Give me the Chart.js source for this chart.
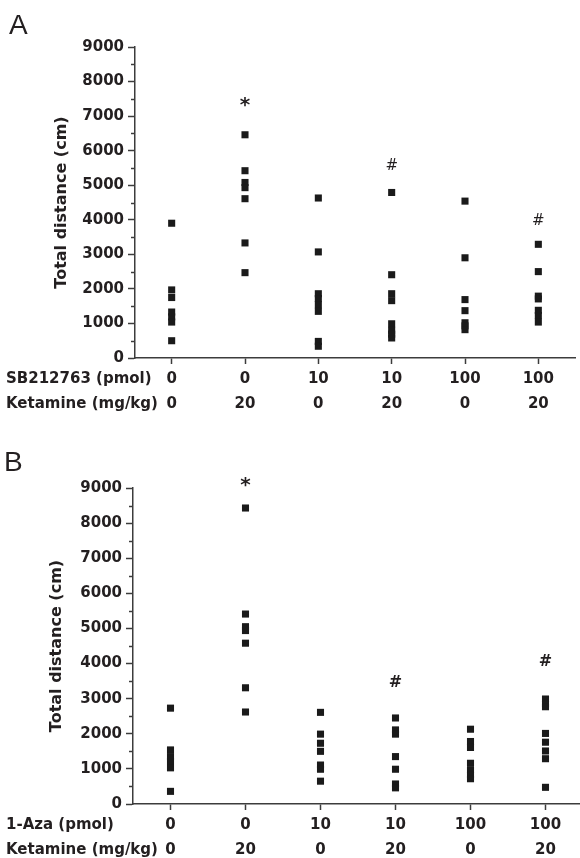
<!DOCTYPE html>
<html>
<head>
<meta charset="utf-8">
<script src="https://cdn.jsdelivr.net/npm/chart.js@4.4.0/dist/chart.umd.min.js"></script>
<style>
    html, body { margin: 0; padding: 0; background: #fff; overflow: hidden; }
    body { width: 580px; height: 858px; position: relative; }
    .panel { position: absolute; left: 0; }
    .letter {
        position: absolute;
        font-family: "Liberation Sans", Arial, sans-serif;
        font-size: 28px;
        line-height: 28px;
        color: #231f20;
    }
</style>
</head>
<body>
<div class="panel" style="top:0; width:580px; height:420px;"><canvas id="chartA"></canvas></div>
<div class="panel" style="top:420px; width:588px; height:438px;"><canvas id="chartB"></canvas></div>
<div class="letter" style="left:9px; top:11px;">A</div>
<div class="letter" style="left:4px; top:448px;">B</div>

<script>
// =====================================================
// Total distance - SB212763 / 1-Aza + Ketamine
// =====================================================

// Tick rows under the x axis
const doseLabels = ['0', '0', '10', '10', '100', '100'];
const ketamineLabels = ['0', '20', '0', '20', '0', '20'];
const yTickStep = 1000;
const yMax = 9000;

// Panel A - SB212763 (pmol), one list per group
const distanceA = [
    [3900, 1970, 1750, 1330, 1190, 1040, 500],
    [6460, 5420, 5080, 4930, 4610, 3330, 2470],
    [4630, 3070, 1860, 1720, 1540, 1350, 480, 340],
    [4790, 2410, 1860, 1660, 990, 800, 690, 580],
    [4540, 2900, 1690, 1370, 1020, 930, 820],
    [3290, 2500, 1790, 1710, 1380, 1230, 1040]
];
const marksA = ['', '*', '', '#', '', '#'];
const markValuesA = [null, 7440, null, 5550, null, 3950];

// Panel B - 1-Aza (pmol)
const distanceB = [
    [2730, 1540, 1350, 1210, 1030, 360],
    [8430, 5410, 5050, 4940, 4580, 3310, 2620],
    [2610, 1990, 1730, 1500, 1110, 990, 650],
    [2450, 2110, 1990, 1350, 990, 570, 460],
    [2130, 1780, 1610, 1160, 970, 830, 720],
    [2990, 2850, 2770, 2010, 1760, 1510, 1290, 475]
];
const marksB = ['', '*', '', '#', '', '#'];
const markValuesB = [null, 9200, null, 3460, null, 4050];

const FONT = '"DejaVu Sans", Arial, sans-serif';
const TEXT_COLOR = '#231f20';
const AXIS_COLOR = '#3c3c3c';
const LINE_H = 25;

function buildPoints(groups) {
    const pts = [];
    groups.forEach((vals, i) => {
        vals.forEach(v => pts.push({ x: i, y: v }));
    });
    return pts;
}

// draws row titles, short minor ticks and the * / # marks
const extrasPlugin = {
    id: 'extras',
    afterDraw(chart, args, opts) {
        const ctx = chart.ctx;
        const xs = chart.scales.x;
        const ys = chart.scales.y;
        ctx.save();

        // minor ticks on y axis
        ctx.strokeStyle = AXIS_COLOR;
        ctx.lineWidth = 1.5;
        for (let v = yTickStep / 2; v < yMax; v += yTickStep) {
            const py = Math.round(ys.getPixelForValue(v)) + 0.5;
            ctx.beginPath();
            ctx.moveTo(chart.chartArea.left - 4, py);
            ctx.lineTo(chart.chartArea.left, py);
            ctx.stroke();
        }

        // row titles at the left of the tick rows
        ctx.fillStyle = TEXT_COLOR;
        ctx.font = 'bold 15px ' + FONT;
        ctx.textAlign = 'left';
        ctx.textBaseline = 'middle';
        const rowTop = xs.top + 6 + 3;
        opts.rowTitles.forEach((t, r) => {
            ctx.fillText(t, 6, rowTop + LINE_H * (r + 0.5));
        });

        // significance marks
        ctx.textAlign = 'center';
        opts.marks.forEach((m, i) => {
            if (!m) return;
            const px = xs.getPixelForValue(i);
            let py = ys.getPixelForValue(opts.markValues[i]);
            if (m === '*') {
                ctx.font = 'bold 20px ' + FONT;
                py += 5;
            } else {
                ctx.font = opts.markFont;
            }
            ctx.fillText(m, px, py);
        });
        ctx.restore();
    }
};

function makeChart(canvasId, groups, rowTitles, marks, markValues, layout) {
    const ctx = document.getElementById(canvasId).getContext('2d');
    return new Chart(ctx, {
        type: 'scatter',
        data: {
            datasets: [{
                data: buildPoints(groups),
                pointStyle: 'rect',
                pointRadius: 5,
                pointBorderWidth: 0,
                pointBackgroundColor: '#1a1a1a',
                pointBorderColor: '#1a1a1a'
            }]
        },
        options: {
            responsive: true,
            maintainAspectRatio: false,
            animation: false,
            events: [],
            layout: { padding: { top: layout.top, left: 0, right: 0, bottom: 0 } },
            plugins: {
                legend: { display: false },
                tooltip: { enabled: false },
                extras: { rowTitles: rowTitles, marks: marks, markValues: markValues, markFont: layout.markFont }
            },
            scales: {
                x: {
                    type: 'linear',
                    min: -0.5,
                    max: doseLabels.length - 0.5,
                    afterBuildTicks: s => { s.ticks = doseLabels.map((d, i) => ({ value: i })); },
                    afterFit: s => { s.height = layout.xHeight; },
                    border: { color: AXIS_COLOR, width: 1.5 },
                    grid: { drawOnChartArea: false, tickLength: 6, tickColor: AXIS_COLOR, tickWidth: 1.5 },
                    ticks: {
                        autoSkip: false,
                        maxRotation: 0,
                        padding: 3,
                        color: TEXT_COLOR,
                        font: { family: FONT, size: 15, weight: 'bold', lineHeight: LINE_H / 15 },
                        callback: v => [doseLabels[v], ketamineLabels[v]]
                    }
                },
                y: {
                    min: 0,
                    max: yMax,
                    afterFit: s => { s.width = layout.yWidth; },
                    border: { color: AXIS_COLOR, width: 1.5 },
                    grid: { drawOnChartArea: false, tickLength: 7, tickColor: AXIS_COLOR, tickWidth: 1.5 },
                    ticks: {
                        stepSize: yTickStep,
                        padding: 4,
                        color: TEXT_COLOR,
                        font: { family: FONT, size: 15, weight: 'bold' },
                        callback: v => String(v)
                    },
                    title: {
                        display: true,
                        text: 'Total distance (cm)',
                        color: TEXT_COLOR,
                        font: { family: FONT, size: 16, weight: 'bold' },
                        padding: { top: layout.titlePad, bottom: 0 }
                    }
                }
            }
        },
        plugins: [extrasPlugin]
    });
}

document.addEventListener('DOMContentLoaded', function() {
    makeChart('chartA', distanceA, ['SB212763 (pmol)', 'Ketamine (mg/kg)'], marksA, markValuesA,
        { top: 47, xHeight: 62, yWidth: 135, titlePad: 52, markFont: '15px ' + FONT });
    makeChart('chartB', distanceB, ['1-Aza (pmol)', 'Ketamine (mg/kg)'], marksB, markValuesB,
        { top: 68, xHeight: 54, yWidth: 133, titlePad: 47, markFont: 'bold 16px ' + FONT });
});
</script>
</body>
</html>
